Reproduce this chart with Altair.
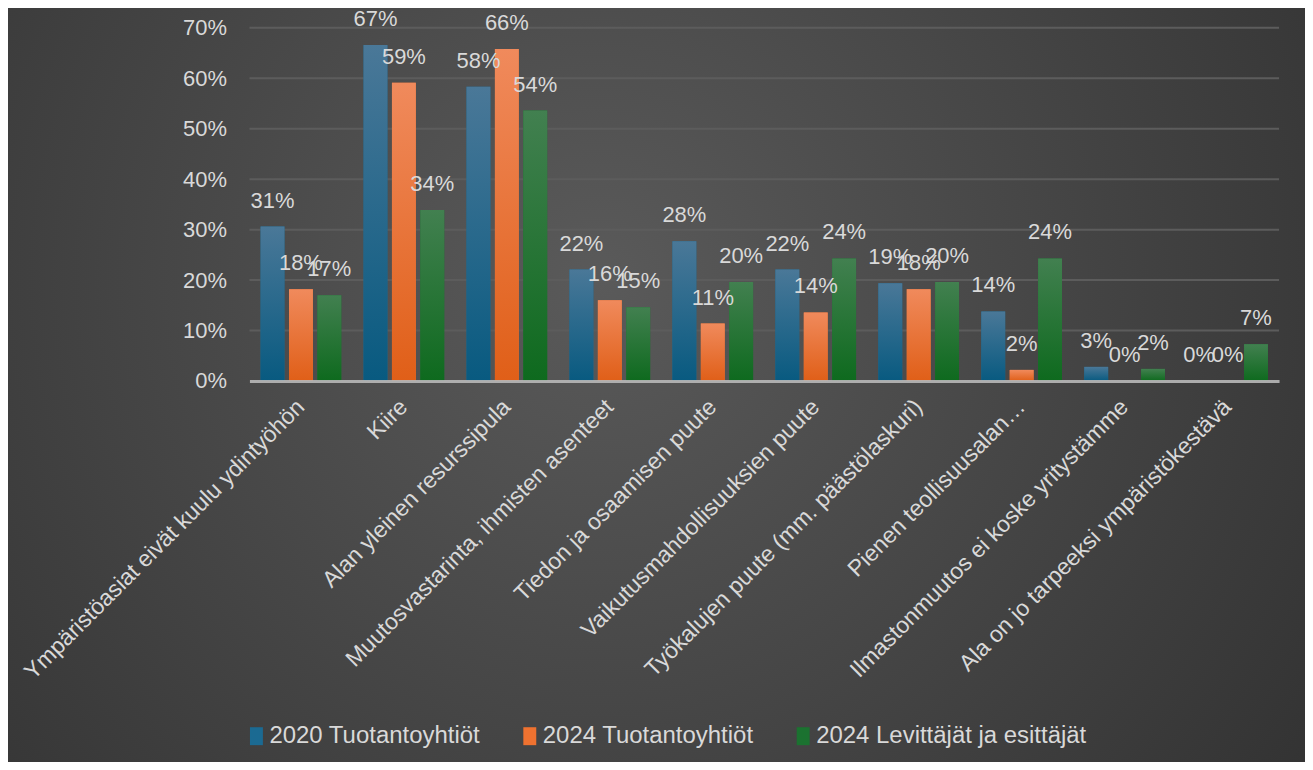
import altair as alt
import pandas as pd

categories = [
    "Ympäristöasiat eivät kuulu ydintyöhön",
    "Kiire",
    "Alan yleinen resurssipula",
    "Muutosvastarinta, ihmisten asenteet",
    "Tiedon ja osaamisen puute",
    "Vaikutusmahdollisuuksien puute",
    "Työkalujen puute (mm. päästölaskuri)",
    "Pienen teollisuusalan…",
    "Ilmastonmuutos ei koske yritystämme",
    "Ala on jo tarpeeksi ympäristökestävä",
]
series = ["2020 Tuotantoyhtiöt", "2024 Tuotantoyhtiöt", "2024 Levittäjät ja esittäjät"]
v2020_tuot = [30.6, 66.6, 58.3, 22.1, 27.7, 22.1, 19.4, 13.8, 2.8, 0.0]
v2024_tuot = [18.2, 59.1, 65.8, 16.0, 11.4, 13.6, 18.2, 2.2, 0.0, 0.0]
v2024_lev = [17.0, 33.9, 53.6, 14.6, 19.6, 24.3, 19.6, 24.3, 2.4, 7.3]
y_ticks = [0, 10, 20, 30, 40, 50, 60, 70]

solid = ["#1b6a92", "#ef7230", "#1b7230"]
grads = [
    ("#4a7898", "#085a80"),
    ("#f08a5c", "#e05f18"),
    ("#428050", "#0e6a1e"),
]

rows = []
for vals, s in zip([v2020_tuot, v2024_tuot, v2024_lev], series):
    for c, v in zip(categories, vals):
        rows.append({"cat": c, "series": s, "value": v})
df = pd.DataFrame(rows)

FONT = "Liberation Sans"
W, H = 1032, 354
PL, PT, PR, PB = 242, 19, 26, 381

xscale = alt.Scale(domain=categories, paddingInner=0.2, paddingOuter=0.1)
xoff_scale = alt.Scale(domain=series, paddingInner=0.16, paddingOuter=0.03)
yscale = alt.Scale(domain=[0, 70], nice=False)

y_axis = alt.Axis(values=y_ticks, labelExpr="datum.value + '%'", title=None,
                  domain=False, ticks=False, grid=False, labelPadding=23,
                  labelFontSize=22, labelColor="#d9d9d9", labelFont=FONT, zindex=1)
x_axis = alt.Axis(title=None, labelAngle=-45, labelAlign="right", labelBaseline="middle",
                  labelPadding=22, ticks=False, domain=True, domainColor="#b8b8b8",
                  domainWidth=3, domainOpacity=0.9, labelFontSize=23, labelColor="#d9d9d9",
                  labelFont=FONT, labelLimit=800, labelOverlap=False, grid=False, zindex=1)

bg = alt.Chart(alt.Data(values=[{"a": 1}])).mark_rect(
    fill={"gradient": "radial",
          "stops": [{"offset": 0, "color": "#5a5a5a"}, {"offset": 1, "color": "#282828"}],
          "x1": 0.47, "y1": 0.5, "x2": 0.47, "y2": 0.5, "r1": 0, "r2": 0.58}
).encode(x=alt.value(-PL), x2=alt.value(W + PR), y=alt.value(-700), y2=alt.value(1206))

grid = alt.Chart(pd.DataFrame({"value": y_ticks[1:]})).mark_rule(
    color="#5c5c5c", strokeWidth=2
).encode(y=alt.Y("value:Q", scale=yscale, axis=y_axis))

base = alt.Chart(df).mark_bar().encode(
    x=alt.X("cat:N", scale=xscale, axis=x_axis, sort=categories),
    xOffset=alt.XOffset("series:N", scale=xoff_scale, sort=series),
    y=alt.Y("value:Q", scale=yscale, axis=y_axis),
    color=alt.Color("series:N", scale=alt.Scale(domain=series, range=solid),
                    legend=alt.Legend(orient="none", legendX=-5, legendY=698,
                                      direction="horizontal", title=None,
                                      symbolType="M-0.72,-1H0.72V1H-0.72Z",
                                      symbolSize=324, symbolStrokeWidth=0,
                                      labelFontSize=24, labelColor="#d9d9d9",
                                      labelFont=FONT, labelOffset=1, columnPadding=37,
                                      padding=0, labelLimit=600)),
)

layers = [bg, grid, base]
for s, (top, bot) in zip(series, grads):
    layers.append(
        alt.Chart(df).transform_filter(alt.datum.series == s).mark_bar(
            fill={"gradient": "linear",
                  "stops": [{"offset": 0, "color": top}, {"offset": 1, "color": bot}],
                  "x1": 0, "y1": 0, "x2": 0, "y2": 1}
        ).encode(
            x=alt.X("cat:N", scale=xscale, axis=x_axis, sort=categories),
            xOffset=alt.XOffset("series:N", scale=xoff_scale, sort=series),
            y=alt.Y("value:Q", scale=yscale, axis=y_axis),
        )
    )

labels = alt.Chart(df).transform_calculate(
    lab="round(datum.value) + '%'"
).mark_text(baseline="alphabetic", dy=-19, fontSize=22, color="#d9d9d9", font=FONT).encode(
    x=alt.X("cat:N", scale=xscale, axis=x_axis, sort=categories),
    xOffset=alt.XOffset("series:N", scale=xoff_scale, sort=series),
    y=alt.Y("value:Q", scale=yscale, axis=y_axis),
    text="lab:N",
)
layers.append(labels)

chart = alt.layer(*layers).properties(
    width=W, height=H,
    autosize=alt.AutoSizeParams(type="none"),
    padding={"left": PL, "top": PT, "right": PR, "bottom": PB},
    background="#333333",
).configure_view(strokeWidth=0)

chart.save("out.html", embed_options={"renderer": "svg", "actions": False})
